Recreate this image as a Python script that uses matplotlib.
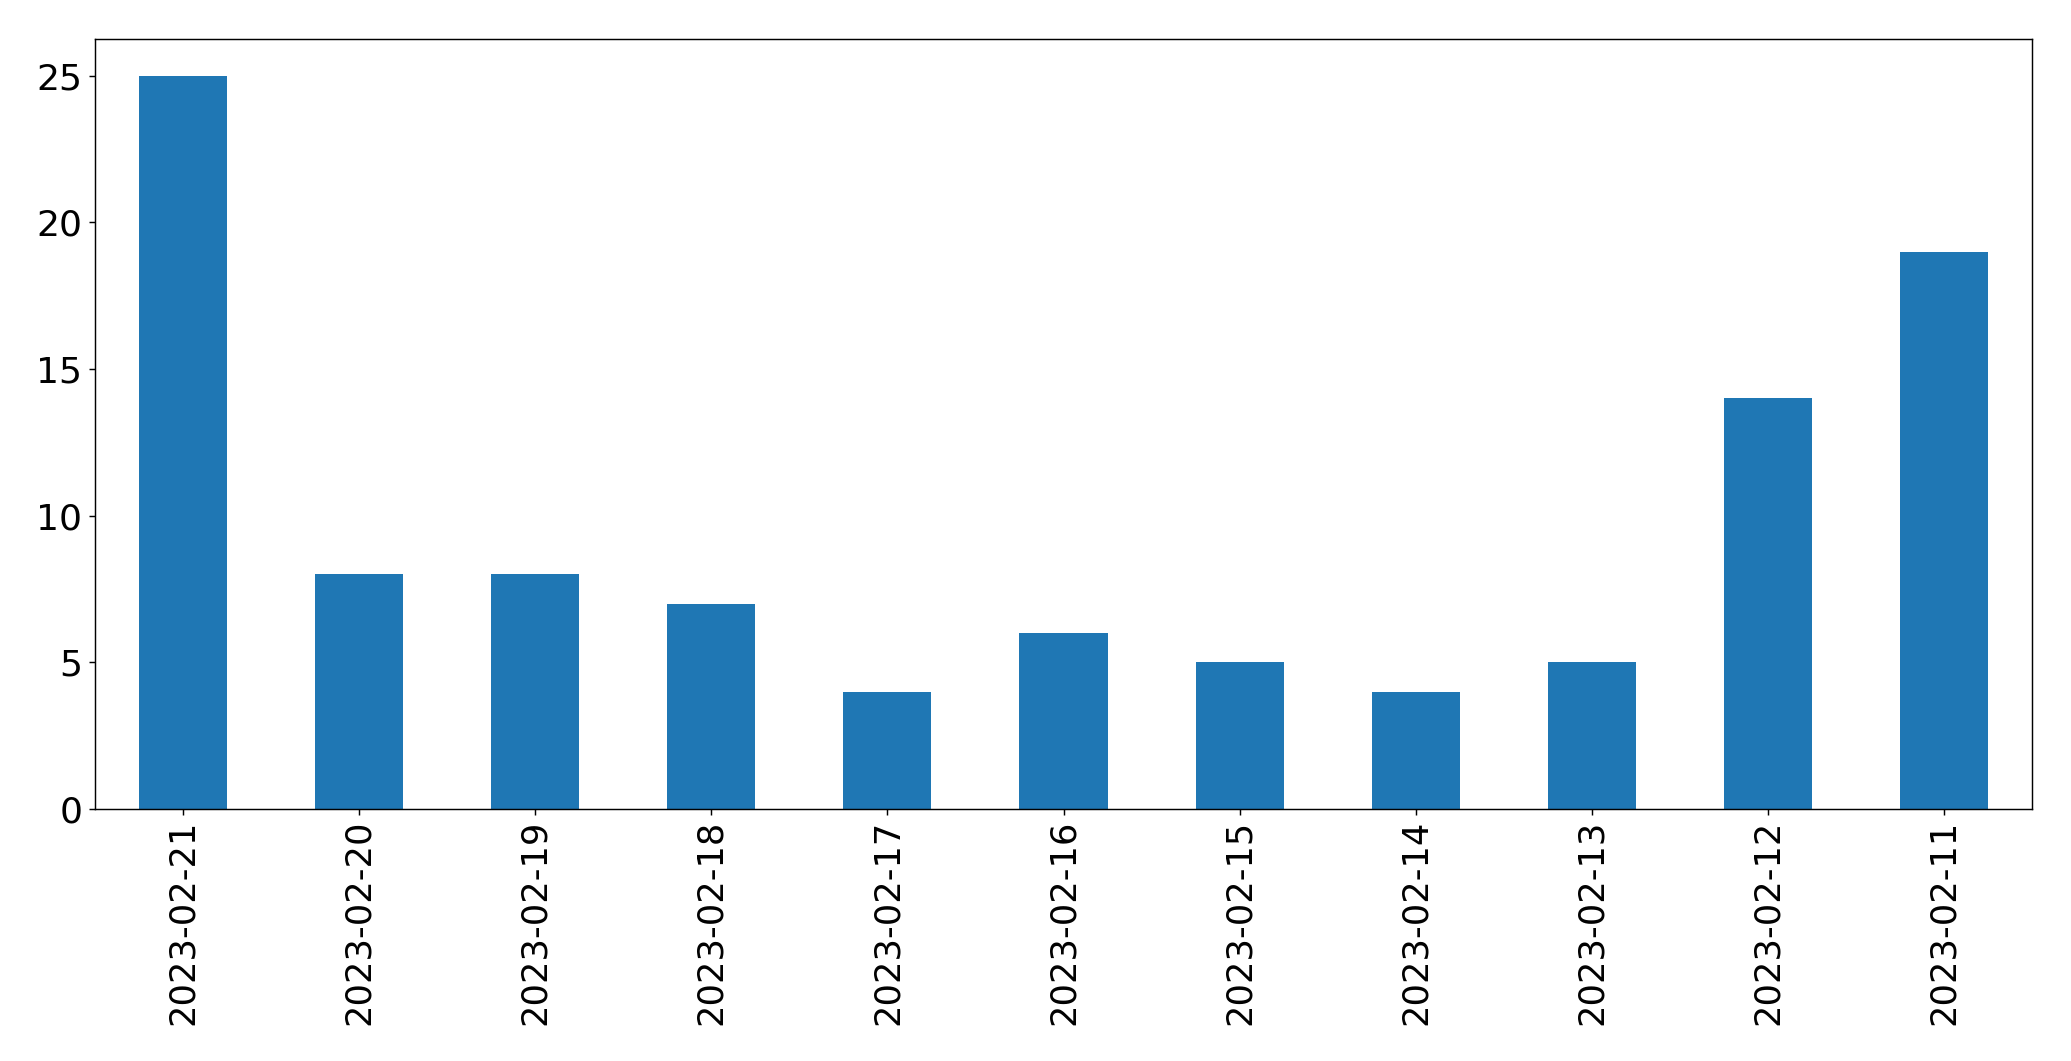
import matplotlib
matplotlib.use("Agg")
import numpy as np
import matplotlib.pyplot as plt

dates = ['2023-02-21', '2023-02-20', '2023-02-19', '2023-02-18', '2023-02-17', '2023-02-16',
         '2023-02-15', '2023-02-14', '2023-02-13', '2023-02-12', '2023-02-11']
counts = [25, 8, 8, 7, 4, 6, 5, 4, 5, 14, 19]

fig = plt.figure(figsize=(2071 / 130, 1061 / 130), dpi=130)
ax = fig.add_axes([95 / 2071, 1 - 809 / 1061, (2032 - 95) / 2071, (809 - 39) / 1061])

x = np.arange(len(dates))
ax.bar(x, counts, width=0.5, color='#1f77b4')
ax.set_xlim(-0.5, len(dates) - 0.5)
ax.set_ylim(0, max(counts) * 1.05)
ax.set_xticks(x)
ax.set_xticklabels(dates, rotation=90, fontsize=19.5)
ax.set_yticks([0, 5, 10, 15, 20, 25])
ax.tick_params(axis='y', labelsize=20)
ax.tick_params(axis='x', pad=2.5)

fig.savefig('out.png', dpi=130)
